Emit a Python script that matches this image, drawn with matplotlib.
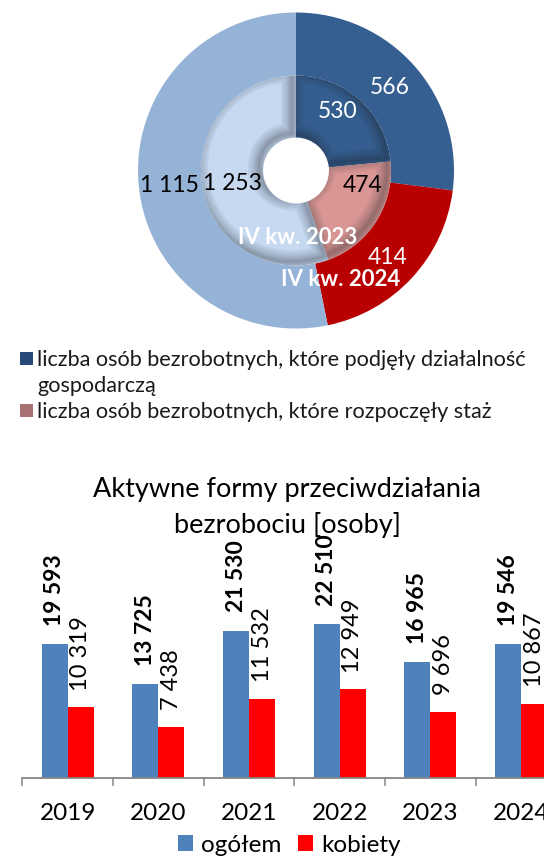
import matplotlib
matplotlib.use("Agg")
import matplotlib.pyplot as plt
from matplotlib.patches import Patch, PathPatch, Rectangle
from matplotlib.transforms import Affine2D
import numpy as np

plt.rcParams['font.family'] = ['Lato', 'DejaVu Sans']

W, H, DPI = 544, 857, 100

# ---------------- data ----------------
donut_outer_label = 'IV kw. 2024'
donut_inner_label = 'IV kw. 2023'
outer_2024 = [566, 414, 1115]
inner_2023 = [530, 474, 1253]
outer_colors = ['#365F91', '#B80000', '#95B3D7']
inner_colors = ['#355E90', '#D99694', '#C6D9F1']
legend_labels = ['liczba osób bezrobotnych, które podjęły działalność\ngospodarczą',
                 'liczba osób bezrobotnych, które rozpoczęły staż']
legend_colors = ['#274A78', '#A87272']

bar_title = 'Aktywne formy przeciwdziałania\nbezrobociu [osoby]'
years = ['2019', '2020', '2021', '2022', '2023', '2024']
ogolem = [19593, 13725, 21530, 22510, 16965, 19546]
kobiety = [10319, 7438, 11532, 12949, 9696, 10867]
series_names = ['ogółem', 'kobiety']
bar_colors = ['#4F81BD', '#FF0000']


def fmt(v):
    return f"{v:,}".replace(',', ' ')


fig = plt.figure(figsize=(W / DPI, H / DPI), dpi=DPI)

# ---------------- donut ----------------
cx, cy, R = 296, 170.5, 158.0
r_mid, r_hole = 95.0, 33.0
pad = 4
ax = fig.add_axes([(cx - R - pad) / W, 1 - (cy + R + pad) / H, (2 * R + 2 * pad) / W, (2 * R + 2 * pad) / H])
wo, _ = ax.pie(outer_2024, radius=1.0, colors=outer_colors, startangle=90, counterclock=False,
               wedgeprops=dict(width=(R - r_mid) / R, linewidth=0))
wi, _ = ax.pie(inner_2023, radius=r_mid / R, colors=inner_colors, startangle=90, counterclock=False,
               wedgeprops=dict(width=(r_mid - r_hole) / R, linewidth=0))
lim = (R + pad) / R
ax.set_xlim(-lim, lim)
ax.set_ylim(-lim, lim)
ax.axis('off')

# inner shadow effect on inner ring
for w in wi:
    for lwpx in [22, 17, 12, 8, 5, 2]:
        pp = PathPatch(w.get_path(), transform=w.get_transform() + Affine2D().translate(-4, 4),
                       fill=False, edgecolor=(0.1, 0.12, 0.15, 0.065), lw=lwpx * 72 / DPI)
        ax.add_patch(pp)
        pp.set_clip_path(w)


def pxy(px, py):
    return ((px - cx) / R, (cy - py) / R)


fs_d = 16.5
ax.text(*pxy(390, 88), fmt(outer_2024[0]), color='white', fontsize=fs_d, ha='center', va='center')
ax.text(*pxy(338, 112), fmt(inner_2023[0]), color='white', fontsize=fs_d, ha='center', va='center')
ax.text(*pxy(362.5, 186), fmt(inner_2023[1]), color='black', fontsize=fs_d, ha='center', va='center')
ax.text(*pxy(388, 257), fmt(outer_2024[1]), color='white', fontsize=fs_d, ha='center', va='center')
ax.text(*pxy(169, 185), fmt(outer_2024[2]), color='black', fontsize=fs_d, ha='center', va='center')
ax.text(*pxy(232.5, 183), fmt(inner_2023[2]), color='black', fontsize=fs_d, ha='center', va='center')
ax.text(*pxy(298, 237), donut_inner_label, color='white', fontsize=16, fontweight='bold', ha='center', va='center')
ax.text(*pxy(341, 279), donut_outer_label, color='white', fontsize=16, fontweight='bold', ha='center', va='center')

# top legend (square aligned with the first line of each entry)
leg_x_box, leg_x_text, box = 20, 37, 13
row_y = 358.0
line_h = 26.0
for lab, col in zip(legend_labels, legend_colors):
    fig.patches.append(Rectangle(((leg_x_box) / W, 1 - (row_y + box / 2) / H), box / W, box / H,
                                 transform=fig.transFigure, facecolor=col, edgecolor='none'))
    for i, line in enumerate(lab.split('\n')):
        fig.text(leg_x_text / W, 1 - (row_y + i * line_h) / H, line, ha='left', va='center_baseline',
                 fontsize=15.6, color='#1a1a1a')
    row_y += line_h * len(lab.split('\n'))

# ---------------- bar chart ----------------
y0 = 778.0
px_per_unit = 6.85 / 1000
ymax = 36000
cat_w = 90.7
axb = fig.add_axes([22.3 / W, (H - y0) / H, 6 * cat_w / W, ymax * px_per_unit / H])
x = np.arange(len(years))
bw = 0.287
b1 = axb.bar(x - bw / 2, ogolem, bw, color=bar_colors[0], label=series_names[0], linewidth=0)
b2 = axb.bar(x + bw / 2, kobiety, bw, color=bar_colors[1], label=series_names[1], linewidth=0)
axb.set_xlim(-0.5, len(years) - 0.5)
axb.set_ylim(0, ymax)
for s in ['top', 'right', 'left']:
    axb.spines[s].set_visible(False)
axb.spines['bottom'].set_color('#868686')
axb.spines['bottom'].set_linewidth(1.3)
axb.set_yticks([])
axb.set_xticks(x)
axb.set_xticklabels(years, fontsize=17.5)
axb.tick_params(axis='x', which='major', length=0, pad=18)
axb.set_xticks(np.arange(-0.5, len(years), 1.0), minor=True)
axb.tick_params(axis='x', which='minor', length=6, width=1.1, color='#868686')

for rect, v in zip(b1, ogolem):
    axb.annotate(fmt(v), (rect.get_x() + rect.get_width() / 2, rect.get_height()), xytext=(0, 13),
                 textcoords='offset points', rotation=90, ha='center', va='bottom',
                 fontsize=16.5, fontweight='bold', annotation_clip=False)
for rect, v in zip(b2, kobiety):
    axb.annotate(fmt(v), (rect.get_x() + rect.get_width() / 2, rect.get_height()), xytext=(0, 12),
                 textcoords='offset points', rotation=90, ha='center', va='bottom',
                 fontsize=17, annotation_clip=False)

fig.text(287 / W, 1 - 507.5 / H, bar_title, ha='center', va='center', fontsize=19.5, linespacing=1.45)

fig.legend([b1, b2], series_names, loc='center', bbox_to_anchor=(289.5 / W, 1 - 845 / H), ncol=2,
           frameon=False, fontsize=17.5, handlelength=0.6, handleheight=0.6, handletextpad=0.35,
           columnspacing=0.7, borderpad=0, borderaxespad=0)

fig.savefig('out.png', dpi=DPI)
